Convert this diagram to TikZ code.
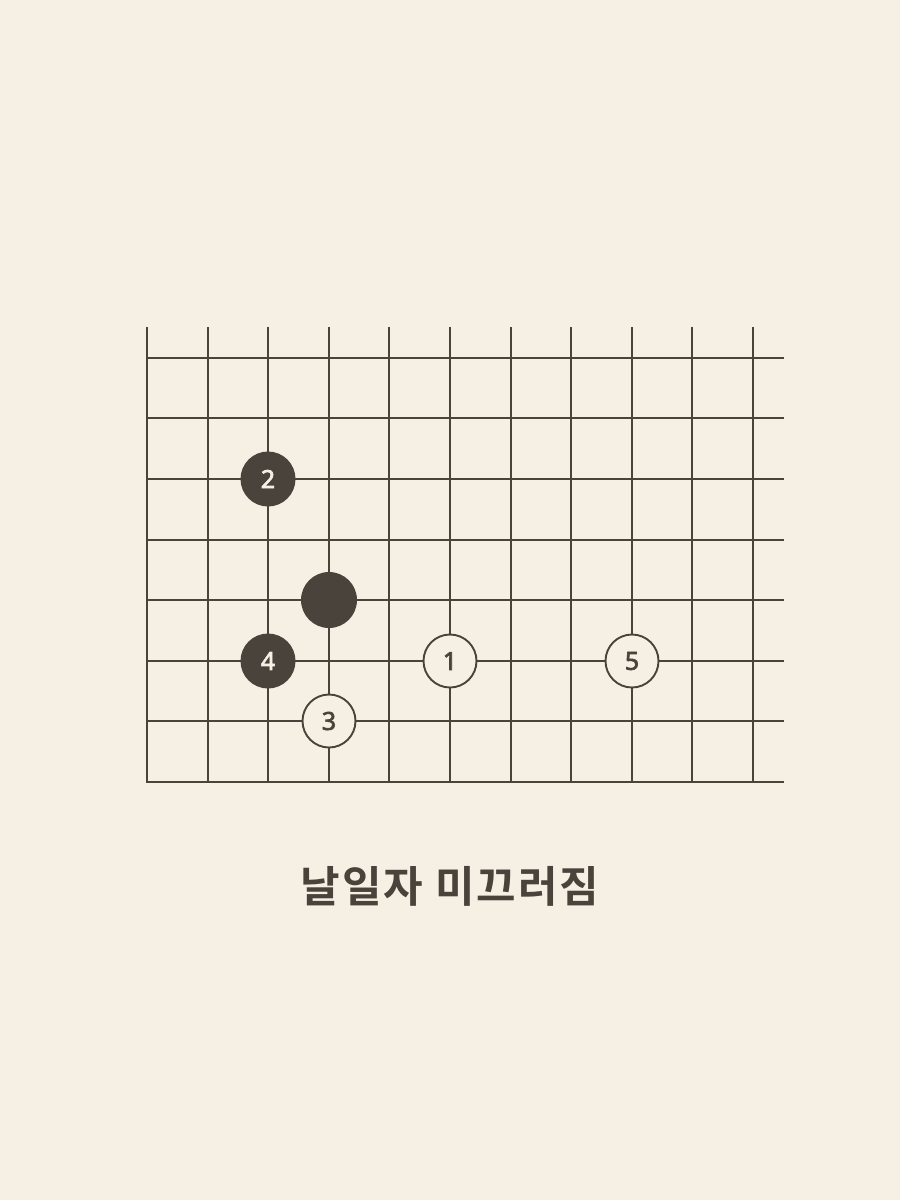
\documentclass[tikz,border=0pt]{standalone}
\usepackage{fontspec}
\setmainfont{Noto Sans}
\newfontfamily\numfont{Noto Sans}[FakeBold=2.6]
\newfontfamily\krfont{Noto Sans CJK KR}[BoldFont={Noto Sans CJK KR Bold},LetterSpace=4.5]
\definecolor{bg}{HTML}{F5EFE4}
\definecolor{ink}{HTML}{4A433C}
\begin{document}
\begin{tikzpicture}[x=1pt,y=-1pt,
  gridline/.style={draw=ink,line width=1.9pt},
  blackstone/.style={circle,fill=ink,draw=none,minimum size=55pt,inner sep=0pt,text=bg,font=\numfont\fontsize{25}{25}\selectfont},
  whitestone/.style={circle,fill=bg,draw=ink,line width=1.9pt,minimum size=53pt,inner sep=0pt,text=ink,font=\numfont\fontsize{25}{25}\selectfont}]
\fill[bg] (0,0) rectangle (900,1200);
\useasboundingbox (0,0) rectangle (900,1200);
% vertical lines
\foreach \xx in {147,208,268,329,389,450,511,571,632,692,753}{
  \draw[gridline] (\xx,327) -- (\xx,782);
}
% horizontal lines
\foreach \yy in {358,418,479,540,600,661,721,782}{
  \draw[gridline] (146.05,\yy) -- (783.5,\yy);
}
\node[blackstone] (b2) at (268,479) {2};
\node[blackstone,minimum size=56pt] (b0) at (329,600) {};
\node[blackstone] (b4) at (268,661) {4};
\node[whitestone] (w1) at (450,661) {1};
\node[whitestone] (w5) at (632,661) {5};
\node[whitestone] (w3) at (329,721) {3};
\node[font=\krfont\bfseries\fontsize{43}{43}\selectfont,text=ink] (title) at (450,886) {날일자 미끄러짐};
\end{tikzpicture}
\end{document}
